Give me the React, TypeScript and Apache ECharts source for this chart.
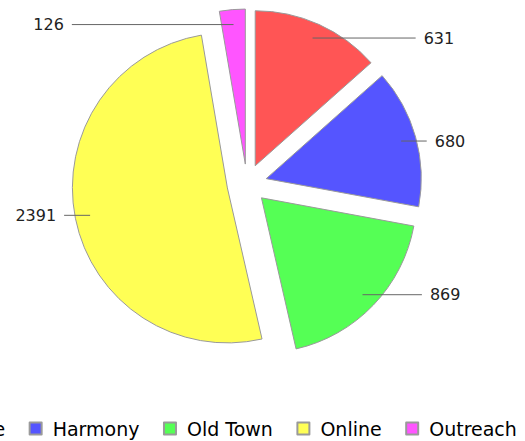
import React, { useEffect, useRef } from "react";
import * as echarts from "echarts";

const categories = ["Riverside", "Harmony", "Old Town", "Online", "Outreach"];
const values = [631, 680, 869, 2391, 126];
const colors = ["#FF5555", "#5555FF", "#55FF55", "#FFFF55", "#FF55FF"];

export default function App() {
  const ref = useRef<HTMLDivElement>(null);
  useEffect(() => {
    if (!ref.current) return;
    const chart = echarts.init(ref.current, undefined, { renderer: "svg" });
    const sliceData = categories.map((name, i) => ({
      name,
      value: values[i],
      selected: true,
      itemStyle: { color: colors[i] },
    }));
    const labelData = categories.map((name, i) => ({
      name,
      value: values[i],
      selected: true,
    }));
    const center = [247, 184];
    chart.setOption({
      animation: false,
      backgroundColor: "#ffffff",
      legend: {
        data: categories,
        left: -107,
        top: 419,
        padding: 0,
        orient: "horizontal",
        icon: "rect",
        itemWidth: 12,
        itemHeight: 12,
        itemGap: 23.5,
        selectedMode: false,
        textStyle: {
          fontFamily: "DejaVu Sans",
          fontSize: 19,
          color: "#000",
          padding: [0, 0, 0, 6],
        },
      },
      series: [
        {
          type: "pie",
          name: "slices",
          left: 0,
          top: 0,
          right: 44,
          bottom: 0,
          center,
          radius: 155,
          startAngle: 90,
          clockwise: true,
          selectedMode: "multiple",
          selectedOffset: 20,
          avoidLabelOverlap: false,
          itemStyle: { borderColor: "#9a9a9a", borderWidth: 1 },
          label: { show: false },
          labelLine: { show: false },
          emphasis: { disabled: true },
          select: { itemStyle: { borderColor: "#9a9a9a", borderWidth: 1 } },
          data: sliceData,
          z: 2,
        },
        {
          type: "pie",
          name: "labels",
          left: 0,
          top: 0,
          right: 44,
          bottom: 0,
          center,
          radius: 140,
          startAngle: 90,
          clockwise: true,
          selectedMode: "multiple",
          selectedOffset: 20,
          avoidLabelOverlap: true,
          silent: true,
          legendHoverLink: false,
          itemStyle: { color: "rgba(0,0,0,0)", borderWidth: 0 },
          select: { itemStyle: { color: "rgba(0,0,0,0)", borderWidth: 0 } },
          emphasis: { disabled: true },
          label: {
            show: true,
            position: "outside",
            alignTo: "edge",
            edgeDistance: 35,
            distanceToLabelLine: 8,
            formatter: "{c}",
            fontFamily: "DejaVu Sans",
            fontSize: 16,
            color: "#222",
          },
          labelLine: {
            show: true,
            length: 0,
            length2: 10,
            lineStyle: { color: "#666", width: 1 },
          },
          data: labelData,
          z: 3,
        },
      ],
    });
    return () => chart.dispose();
  }, []);
  return (
    <div
      ref={ref}
      style={{ position: "absolute", left: 0, top: 0, width: 525, height: 441 }}
    />
  );
}
